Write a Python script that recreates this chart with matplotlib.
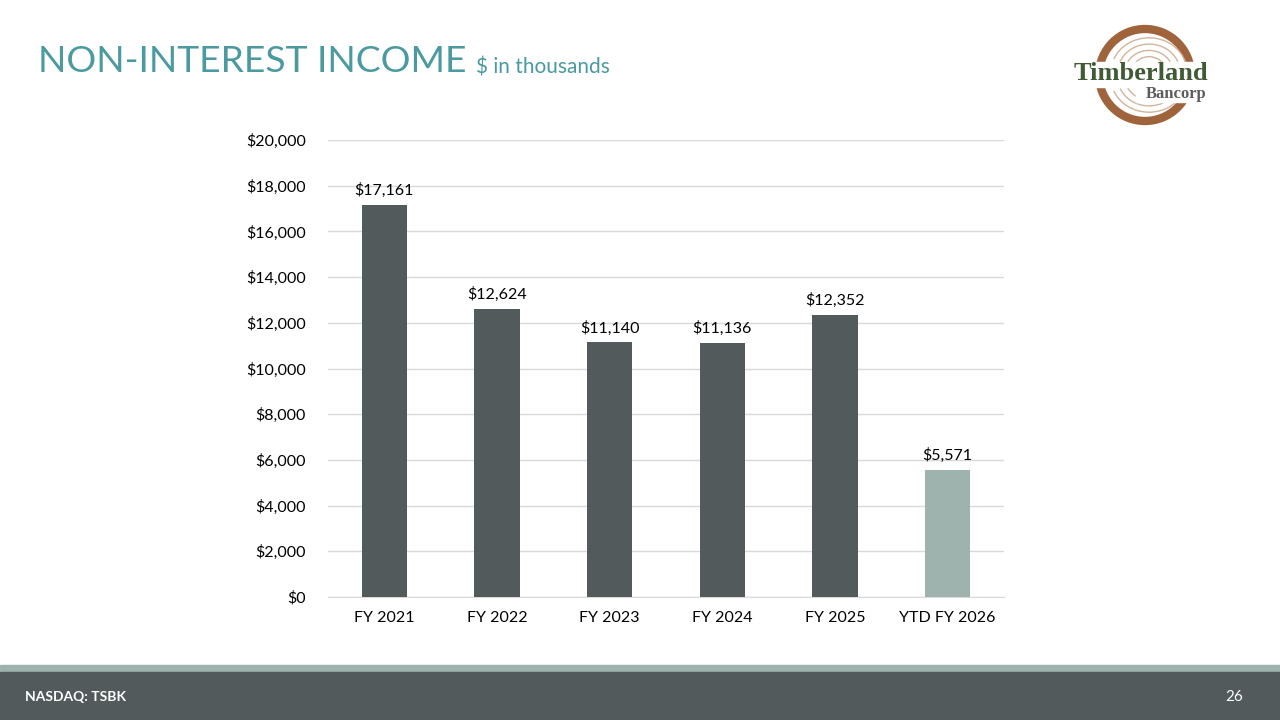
import matplotlib
matplotlib.use("Agg")
import matplotlib.pyplot as plt
from matplotlib.patches import Rectangle, Arc
import numpy as np

categories = ["FY 2021", "FY 2022", "FY 2023", "FY 2024", "FY 2025", "YTD FY 2026"]
values = [17161, 12624, 11140, 11136, 12352, 5571]
yticks = [0, 2000, 4000, 6000, 8000, 10000, 12000, 14000, 16000, 18000, 20000]

dark = "#525A5C"
light = "#9EB3AE"
teal = "#4A9AA0"

plt.rcParams['font.family'] = ['Lato', 'DejaVu Sans']

fig = plt.figure(figsize=(12.8, 7.2), dpi=100)
W, H = 1280, 720

def ax_rect(x0, y0, x1, y1):
    return [x0 / W, 1 - y1 / H, (x1 - x0) / W, (y1 - y0) / H]

ax = fig.add_axes(ax_rect(328, 140, 1004, 597))
colors = [dark] * (len(values) - 1) + [light]
x = np.arange(len(categories))
ax.bar(x, values, width=0.4, color=colors, zorder=3)
ax.set_xlim(-0.5, len(categories) - 0.5)
ax.set_ylim(0, 20000)
ax.set_yticks(yticks)
ax.set_yticklabels([f"${v:,}" for v in yticks], fontsize=11.5, color="black")
ax.set_xticks(x)
ax.set_xticklabels(categories, fontsize=11.5, color="black")
ax.grid(axis="y", color="#D9D9D9", linewidth=1, zorder=0)
for s in ["top", "right", "left"]:
    ax.spines[s].set_visible(False)
ax.spines["bottom"].set_color("#D9D9D9")
ax.tick_params(axis="both", length=0)
ax.tick_params(axis="y", pad=16)
ax.tick_params(axis="x", pad=10)
for xi, v in zip(x, values):
    ax.annotate(f"${v:,}", (xi, v), xytext=(0, 5), textcoords="offset points",
                ha="center", va="bottom", fontsize=11.5, color="black")

# Title
fig.text(38 / W, 1 - 62 / H, "NON-INTEREST INCOME", fontsize=26.8, color=teal,
         va="center", ha="left")
fig.text(476 / W, 1 - 68 / H, "$ in thousands", fontsize=15, color=teal,
         va="center", ha="left")

# Footer
fig.add_artist(Rectangle((0, 1 - 672 / H), 1, 7 / H, transform=fig.transFigure,
                         color=light, zorder=0))
fig.add_artist(Rectangle((0, 0), 1, 48 / H, transform=fig.transFigure,
                         color=dark, zorder=0))
fig.text(25 / W, 1 - 697 / H, "NASDAQ: TSBK", fontsize=10, color="white",
         fontweight="bold", va="center", ha="left")
fig.text(1243 / W, 1 - 697 / H, "26", fontsize=11, color="white",
         va="center", ha="right")

# Logo
lax = fig.add_axes(ax_rect(1050, 20, 1235, 130))
lax.set_xlim(1050, 1235)
lax.set_ylim(130, 20)
lax.set_aspect("equal")
lax.axis("off")
brown = "#A0643C"
cx, cy = 1145, 75
lax.add_patch(Arc((cx, cy), 92, 92, theta1=0, theta2=360, color=brown, lw=6))
for r in [76, 62, 48, 34]:
    lax.add_patch(Arc((cx + 4, cy - 3), r, r * 0.9, theta1=200, theta2=345,
                      color="#D2B49C", lw=1))
for r in [76, 62, 48]:
    lax.add_patch(Arc((cx + 4, cy + 3), r, r * 0.9, theta1=20, theta2=160,
                      color="#D2B49C", lw=1))
lax.add_patch(Rectangle((1056, 62), 172, 25, color="white", zorder=2))
lax.add_patch(Rectangle((1136, 86), 80, 16, color="white", zorder=2))
lax.text(1141, 74, "Timberland", fontsize=19, fontweight="bold", color="#3E5B34",
         family=["Liberation Serif", "DejaVu Serif"], ha="center", va="center", zorder=3)
lax.text(1176, 94, "Bancorp", fontsize=12, fontweight="bold", color="#5C5C5C",
         family=["Liberation Serif", "DejaVu Serif"], ha="center", va="center", zorder=3)

fig.savefig("out.png", dpi=100, facecolor="white")
